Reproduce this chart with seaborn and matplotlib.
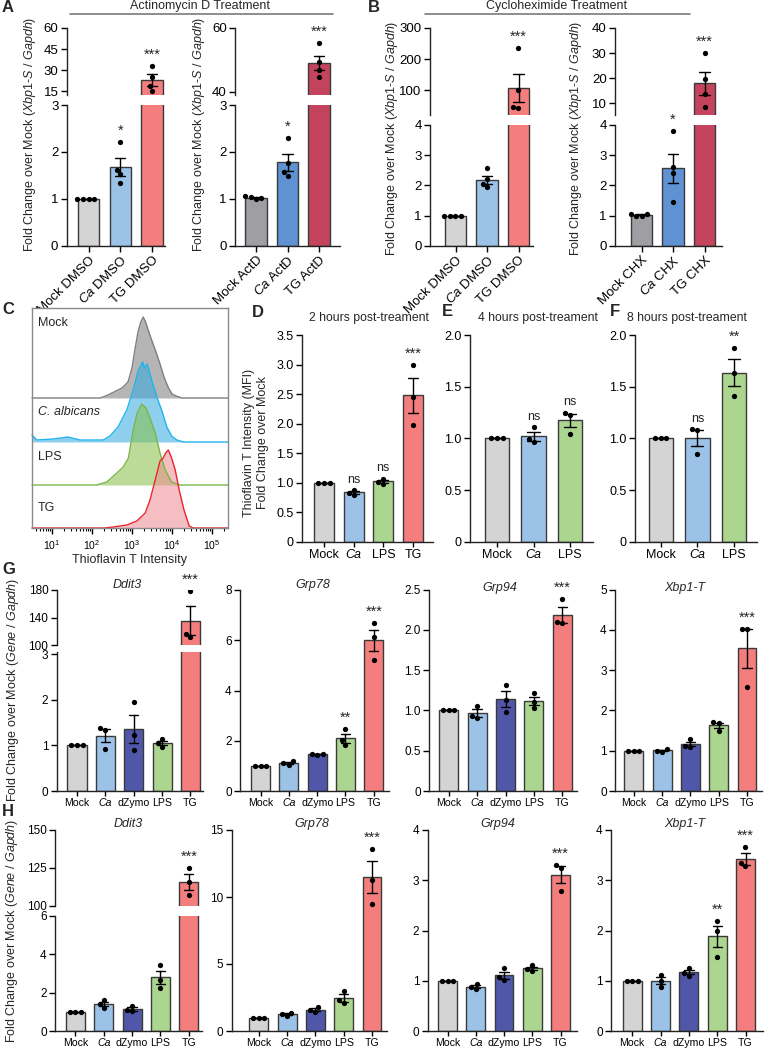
import numpy as np
import pandas as pd
import matplotlib
matplotlib.use("Agg")
import matplotlib.pyplot as plt
import seaborn as sns

# ---------------- values ----------------
# A: Actinomycin D treatment, Xbp1-S / Gapdh (n = 4)
a_dmso_groups = ["Mock DMSO", "Ca DMSO", "TG DMSO"]
a_dmso_vals = [[1.0, 1.0, 1.0, 1.0], [2.22, 1.62, 1.53, 1.34], [33.0, 25.0, 18.5, 15.0]]
a_actd_groups = ["Mock ActD", "Ca ActD", "TG ActD"]
a_actd_vals = [[1.0, 1.05, 1.02, 1.04], [2.30, 1.76, 1.58, 1.49], [55.2, 49.4, 46.7, 44.6]]

# B: Cycloheximide treatment
b_dmso_groups = ["Mock DMSO", "Ca DMSO", "TG DMSO"]
b_dmso_vals = [[1.0, 1.0, 1.0, 1.0], [2.56, 2.20, 2.05, 1.93], [235.0, 100.0, 42.0, 45.0]]
b_chx_groups = ["Mock CHX", "Ca CHX", "TG CHX"]
b_chx_vals = [[1.0, 1.05, 1.0, 1.05], [3.80, 2.60, 2.40, 1.45], [30.0, 19.5, 13.5, 8.5]]

# C: ThT histograms (log10 intensity, relative count)
hist_names = ["Mock", "C. albicans", "LPS", "TG"]
mock_logx = [0.5, 2.2, 2.4, 2.55, 2.75, 2.9, 3.0, 3.08, 3.15, 3.22, 3.28, 3.34, 3.42, 3.5,
             3.6, 3.7, 3.8, 3.9, 4.0, 4.1, 4.25, 5.4]
mock_h = [0, 0, 3, 6, 10, 16, 30, 50, 66, 76, 81, 76, 66, 57, 46, 34, 21, 11, 4, 2, 0, 0]
ca_logx = [0.5, 0.62, 1.03, 1.4, 1.7, 2.28, 2.45, 2.65, 2.87, 3.03, 3.16, 3.27, 3.31, 3.38,
           3.49, 3.62, 3.74, 3.87, 3.99, 4.12, 4.28, 5.4]
ca_h = [7, 2, 3, 5, 2, 2, 6, 15, 32, 52, 72, 80, 74, 78, 62, 45, 32, 15, 6, 2, 0, 0]
lps_logx = [0.5, 2.12, 2.37, 2.62, 2.78, 2.91, 3.03, 3.13, 3.24, 3.35, 3.45, 3.58, 3.7,
            3.83, 3.99, 4.2, 5.4]
lps_h = [0, 0, 3, 12, 18, 27, 55, 72, 81, 77, 67, 52, 32, 15, 3, 0, 0]
tg_logx = [0.5, 2.3, 2.53, 2.87, 3.12, 3.33, 3.45, 3.58, 3.7, 3.78, 3.84, 3.91, 3.99, 4.08,
           4.18, 4.3, 4.43, 4.53, 5.4]
tg_h = [0, 0, 1, 3, 7, 15, 28, 48, 67, 70, 75, 78, 70, 58, 38, 18, 2, 0, 0]

# D-F: ThT MFI fold change (n = 3)
d_groups = ["Mock", "Ca", "LPS", "TG"]
d_vals = [[1.0, 1.0, 1.0], [0.88, 0.83, 0.79], [1.07, 1.01, 0.98], [3.0, 2.45, 1.98]]
ef_groups = ["Mock", "Ca", "LPS"]
e_vals = [[1.0, 1.0, 1.0], [1.11, 0.99, 0.96], [1.25, 1.23, 1.04]]
f_vals = [[1.0, 1.0, 1.0], [1.09, 1.08, 0.85], [1.87, 1.63, 1.41]]

# G / H: UPR genes (n = 3)
gh_groups = ["Mock", "Ca", "dZymo", "LPS", "TG"]
g_ddit3 = [[1, 1, 1], [1.38, 1.35, 0.92], [1.95, 1.23, 0.89], [1.15, 1.05, 0.97], [178, 116, 112]]
g_grp78 = [[1, 1, 1], [1.18, 1.10, 1.05], [1.47, 1.46, 1.45], [2.45, 2.02, 1.85], [6.67, 6.12, 5.21]]
g_grp94 = [[1, 1, 1], [1.06, 0.93, 0.90], [1.32, 1.13, 0.98], [1.21, 1.10, 1.03], [2.38, 2.10, 2.08]]
g_xbp1t = [[1, 1, 1], [1.04, 1.00, 0.98], [1.28, 1.12, 1.10], [1.70, 1.68, 1.50], [4.03, 4.01, 2.58]]
h_ddit3 = [[1, 1, 1], [1.60, 1.40, 1.20], [1.33, 1.10, 1.03], [3.45, 2.68, 2.25], [125, 116, 107]]
h_grp78 = [[1, 1, 1], [1.37, 1.25, 1.13], [1.78, 1.55, 1.42], [3.0, 2.3, 2.1], [13.6, 11.3, 9.5]]
h_grp94 = [[1, 1, 1], [0.93, 0.87, 0.83], [1.25, 1.07, 1.01], [1.31, 1.24, 1.20], [3.30, 3.25, 2.79]]
h_xbp1t = [[1, 1, 1], [1.12, 1.00, 0.88], [1.26, 1.16, 1.10], [2.19, 1.99, 1.48], [3.67, 3.34, 3.28]]

# ---------------- style ----------------
sns.set_style("ticks")
plt.rcParams["font.family"] = ["Liberation Sans", "DejaVu Sans"]
plt.rcParams["mathtext.fontset"] = "custom"
plt.rcParams["mathtext.rm"] = "Liberation Sans"
plt.rcParams["mathtext.it"] = "Liberation Sans:italic"
plt.rcParams["mathtext.bf"] = "Liberation Sans:bold"
plt.rcParams["axes.linewidth"] = 1.0
plt.rcParams["axes.edgecolor"] = "#222222"

c_mock, c_mock2 = "#d4d4d4", "#9e9ea3"
c_ca, c_ca2 = "#9cc3e7", "#5e92d2"
c_tg, c_tg2 = "#f47e7e", "#c4445d"
c_dz, c_lps = "#5057a8", "#acd590"

W, H = 767, 1049
fig = plt.figure(figsize=(W / 100, H / 100), dpi=100)


def px_ax(x0, y0, x1, y1):
    return fig.add_axes([x0 / W, 1 - y1 / H, (x1 - x0) / W, (y1 - y0) / H])


def ftext(x, y, s, **kw):
    fig.text(x / W, 1 - y / H, s, **kw)


def lab(s):
    # "Ca" alone is set in italic via font style; mixed labels need mathtext
    if s == "Ca":
        return s
    return s.replace("Ca", r"$\mathit{Ca}$")


def xlim_px(x0, x1, c0, cn, n):
    step = (cn - c0) / (n - 1)
    return (-(c0 - x0) / step, n - 1 + (x1 - cn) / step)


def fmt_int(t):
    return f"{t:g}"


def fmt_dec(t):
    return "0" if t == 0 else f"{t:.1f}"


def draw_bars(ax, groups, vals, colors):
    df = pd.DataFrame({"group": np.repeat(groups, [len(v) for v in vals]),
                       "value": np.concatenate(vals)})
    sns.barplot(data=df, x="group", y="value", hue="group", order=groups, hue_order=groups,
                palette=colors, legend=False, saturation=1, errorbar="se", capsize=0.33,
                width=0.67, edgecolor="#3a3a3a", linewidth=1.0,
                err_kws={"color": "black", "linewidth": 1.0}, ax=ax)
    sns.swarmplot(data=df, x="group", y="value", order=groups, color="black", size=3.8, ax=ax)
    ax.set_xlabel("")
    ax.set_ylabel("")


def finish(ax, xl, ylim, ticks, fmt, fs):
    ax.set_xlim(xl)
    ax.set_ylim(ylim)
    ax.set_yticks(ticks)
    ax.set_yticklabels([fmt(t) for t in ticks], fontsize=fs)
    sns.despine(ax=ax)
    ax.tick_params(length=4, width=1, pad=2, colors="black")


def set_xlabels(ax, groups, fs, rot=0):
    ax.set_xticks(range(len(groups)))
    if rot:
        tl = ax.set_xticklabels([lab(g) for g in groups], rotation=rot, ha="right",
                                rotation_mode="anchor", fontsize=fs)
    else:
        tl = ax.set_xticklabels([lab(g) for g in groups], fontsize=fs)
        ax.tick_params(axis="x", length=3.5, pad=1.5)
    for t, g in zip(tl, groups):
        if g == "Ca":
            t.set_fontstyle("italic")


def star(ax, i, vals, s, fs):
    v = np.asarray(vals, dtype=float)
    top = max(v.max(), v.mean() + v.std(ddof=1) / np.sqrt(len(v)))
    ax.annotate(s, xy=(i, top), xytext=(0, 3), textcoords="offset points",
                ha="center", va="bottom", fontsize=fs, annotation_clip=False)
    return top


def simple_panel(xpx, ypx, groups, vals, colors, ylim, ticks, fmt, sig, tfs, xfs):
    ax = px_ax(xpx[0], ypx[0], xpx[1], ypx[1])
    draw_bars(ax, groups, vals, colors)
    finish(ax, xlim_px(*xpx, len(groups)), ylim, ticks, fmt, tfs)
    set_xlabels(ax, groups, xfs)
    for i, s in sig.items():
        star(ax, i, vals[i], s, 10.5 if "*" in s else 9)
    return ax


def broken_panel(xpx, up_y, lo_y, groups, vals, colors, up_lim, up_ticks, lo_lim, lo_ticks,
                 sig, tfs, xfs, rot=0):
    xl = xlim_px(*xpx, len(groups))
    ax_u = px_ax(xpx[0], up_y[0], xpx[1], up_y[1])
    ax_l = px_ax(xpx[0], lo_y[0], xpx[1], lo_y[1])
    for ax in (ax_u, ax_l):
        draw_bars(ax, groups, vals, colors)
    finish(ax_u, xl, up_lim, up_ticks, fmt_int, tfs)
    finish(ax_l, xl, lo_lim, lo_ticks, fmt_int, tfs)
    ax_u.spines["bottom"].set_visible(False)
    ax_u.tick_params(axis="x", bottom=False, labelbottom=False)
    set_xlabels(ax_l, groups, xfs, rot)
    for i, s in sig.items():
        v = np.asarray(vals[i], dtype=float)
        target = ax_u if v.max() > lo_lim[1] else ax_l
        star(target, i, vals[i], s, 10.5)
    return ax_u, ax_l


# ---------------- panel A ----------------
ylab_x = r"Fold Change over Mock ($\mathit{Xbp1}$-$\mathit{S}$ / $\mathit{Gapdh}$)"
broken_panel((66.7, 165, 88.5, 152), (28, 95), (105, 245.7), a_dmso_groups, a_dmso_vals,
             [c_mock, c_ca, c_tg], (12.2, 60), [15, 30, 45, 60], (0, 3), [0, 1, 2, 3],
             {1: "*", 2: "***"}, 9.5, 9.5, rot=45)
broken_panel((235, 340, 256, 319), (28, 95), (105, 245.7), a_actd_groups, a_actd_vals,
             [c_mock2, c_ca2, c_tg2], (39, 60), [40, 60], (0, 3), [0, 1, 2, 3],
             {1: "*", 2: "***"}, 9.5, 9.5, rot=45)
ftext(30, 134, ylab_x, rotation=90, ha="center", va="center", fontsize=9)
ftext(199, 134, ylab_x, rotation=90, ha="center", va="center", fontsize=9)
ftext(200, 6, "Actinomycin D Treatment", ha="center", va="center", fontsize=9)
fig.add_artist(plt.Line2D([70 / W, 333 / W], [1 - 14.3 / H] * 2, color="#7a7a7a", lw=1.2))

# ---------------- panel B ----------------
broken_panel((430, 533, 455.5, 518.5), (28, 115), (125, 245.7), b_dmso_groups, b_dmso_vals,
             [c_mock, c_ca, c_tg], (19.4, 300), [100, 200, 300], (0, 4), [0, 1, 2, 3, 4],
             {2: "***"}, 9.5, 9.5, rot=45)
broken_panel((615, 722, 641.5, 704.5), (28, 115), (125, 245.7), b_chx_groups, b_chx_vals,
             [c_mock2, c_ca2, c_tg2], (5.3, 40), [10, 20, 30, 40], (0, 4), [0, 1, 2, 3, 4],
             {1: "*", 2: "***"}, 9.5, 9.5, rot=45)
ftext(392, 138, ylab_x, rotation=90, ha="center", va="center", fontsize=9)
ftext(576, 138, ylab_x, rotation=90, ha="center", va="center", fontsize=9)
ftext(557, 6, "Cycloheximide Treatment", ha="center", va="center", fontsize=9)
fig.add_artist(plt.Line2D([425 / W, 690 / W], [1 - 14.3 / H] * 2, color="#7a7a7a", lw=1.2))

# ---------------- panel C ----------------
ax_c = px_ax(32, 308, 228, 528)
offsets = [130, 86, 43, 0]
hist_x = [mock_logx, ca_logx, lps_logx, tg_logx]
hist_h = [mock_h, ca_h, lps_h, tg_h]
fills = ["#797979", "#33a9e1", "#85bf44", "#ed8992"]
lines = ["#7f7f7f", "#1fb4ec", "#7ab648", "#e8262b"]
for lx, hh, fc, lc, off in zip(hist_x, hist_h, fills, lines, offsets):
    xs = 10 ** np.asarray(lx)
    ys = off + np.asarray(hh, dtype=float)
    ax_c.fill_between(xs, off, ys, color=fc, alpha=0.55, lw=0)
    ax_c.plot(xs, ys, color=lc, lw=1, clip_on=False)
ax_c.set_xscale("log")
ax_c.set_xlim(10 ** 0.5, 10 ** 5.4)
ax_c.set_ylim(0, 220)
ax_c.set_yticks([])
ax_c.set_xticks([1e1, 1e2, 1e3, 1e4, 1e5])
for s in ax_c.spines.values():
    s.set_color("#8a8a8a")
ax_c.tick_params(axis="x", which="major", length=4, width=1, labelsize=7.5, pad=3, colors="black")
ax_c.tick_params(axis="x", which="minor", length=2.5, width=0.8, colors="black")
ax_c.set_xlabel("Thioflavin T Intensity", fontsize=9, labelpad=2)
for name, yy in zip(hist_names, [323, 412, 457, 508]):
    ftext(38, yy, name, ha="left", va="center", fontsize=9,
          style="italic" if name.startswith("C.") else "normal")

# ---------------- panels D-F ----------------
simple_panel((301.7, 433, 324, 413), (335, 541.7), d_groups, d_vals,
             [c_mock, c_ca, c_lps, c_tg], (0, 3.5), [0, 0.5, 1.0, 1.5, 2.0, 2.5, 3.0, 3.5],
             fmt_dec, {1: "ns", 2: "ns", 3: "***"}, 9, 9)
simple_panel((470, 593, 497, 570), (335, 541.7), ef_groups, e_vals,
             [c_mock, c_ca, c_lps], (0, 2.0), [0, 0.5, 1.0, 1.5, 2.0],
             fmt_dec, {1: "ns", 2: "ns"}, 9, 9)
simple_panel((635, 757, 660.8, 734), (335, 541.7), ef_groups, f_vals,
             [c_mock, c_ca, c_lps], (0, 2.0), [0, 0.5, 1.0, 1.5, 2.0],
             fmt_dec, {1: "ns", 2: "**"}, 9, 9)
ftext(256, 443, "Thioflavin T Intensity (MFI)\nFold Change over Mock", rotation=90,
      ha="center", va="center", fontsize=9, multialignment="center")
ftext(369, 318, "2 hours post-treament", ha="center", va="center", fontsize=8.8)
ftext(538, 318, "4 hours post-treament", ha="center", va="center", fontsize=8.8)
ftext(687, 318, "8 hours post-treament", ha="center", va="center", fontsize=8.8)

# ---------------- panels G / H ----------------
gh_colors = [c_mock, c_ca, c_dz, c_lps, c_tg]
ylab_g = r"Fold Change over Mock ($\mathit{Gene}$ / $\mathit{Gapdh}$)"

broken_panel((56.7, 203, 77, 190.5), (590, 645), (651.7, 791), gh_groups, g_ddit3, gh_colors,
             (100, 180), [100, 140, 180], (0, 3.06), [0, 1, 2, 3], {4: "***"}, 8.5, 7.6)
simple_panel((240, 389, 260.5, 373.8), (590, 791), gh_groups, g_grp78, gh_colors,
             (0, 8), [0, 2, 4, 6, 8], fmt_int, {3: "**", 4: "***"}, 8.5, 7.6)
simple_panel((429, 577, 448.8, 562.2), (589.5, 791), gh_groups, g_grp94, gh_colors,
             (0, 2.5), [0, 0.5, 1.0, 1.5, 2.0, 2.5], fmt_dec, {4: "***"}, 8.5, 7.6)
simple_panel((615, 762, 633.8, 747), (589.5, 791), gh_groups, g_xbp1t, gh_colors,
             (0, 5), [0, 1, 2, 3, 4, 5], fmt_int, {4: "***"}, 8.5, 7.6)

broken_panel((55, 202, 75.3, 188.8), (830, 906), (916, 1031), gh_groups, h_ddit3, gh_colors,
             (100, 150), [100, 125, 150], (0, 6), [0, 2, 4, 6], {4: "***"}, 8.5, 7.6)
simple_panel((231.7, 387, 258.8, 372), (830, 1031), gh_groups, h_grp78, gh_colors,
             (0, 15), [0, 5, 10, 15], fmt_int, {4: "***"}, 8.5, 7.6)
simple_panel((427.7, 577, 447.5, 560.5), (830, 1031), gh_groups, h_grp94, gh_colors,
             (0, 4), [0, 1, 2, 3, 4], fmt_int, {4: "***"}, 8.5, 7.6)
simple_panel((611, 763, 632.2, 745.5), (830, 1031), gh_groups, h_xbp1t, gh_colors,
             (0, 4), [0, 1, 2, 3, 4], fmt_int, {3: "**", 4: "***"}, 8.5, 7.6)

ftext(13, 690, ylab_g, rotation=90, ha="center", va="center", fontsize=9)
ftext(12, 931, ylab_g, rotation=90, ha="center", va="center", fontsize=9)
for x, y, gene in [(127, 585, "Ddit3"), (313, 585, "Grp78"), (500, 588, "Grp94"),
                   (685, 588, "Xbp1-T"), (128, 824, "Ddit3"), (312, 824, "Grp78"),
                   (498, 824, "Grp94"), (685, 824, "Xbp1-T")]:
    ftext(x, y, gene, ha="center", va="center", fontsize=9, style="italic")

# ---------------- panel letters ----------------
for x, y, s in [(2, 8, "A"), (368, 8, "B"), (2, 310, "C"), (252, 313, "D"), (442, 311, "E"),
                (610, 311, "F"), (2, 570, "G"), (2, 812, "H")]:
    ftext(x, y, s, ha="left", va="center", fontsize=12, fontweight="bold")

fig.savefig("out.png", dpi=100)
